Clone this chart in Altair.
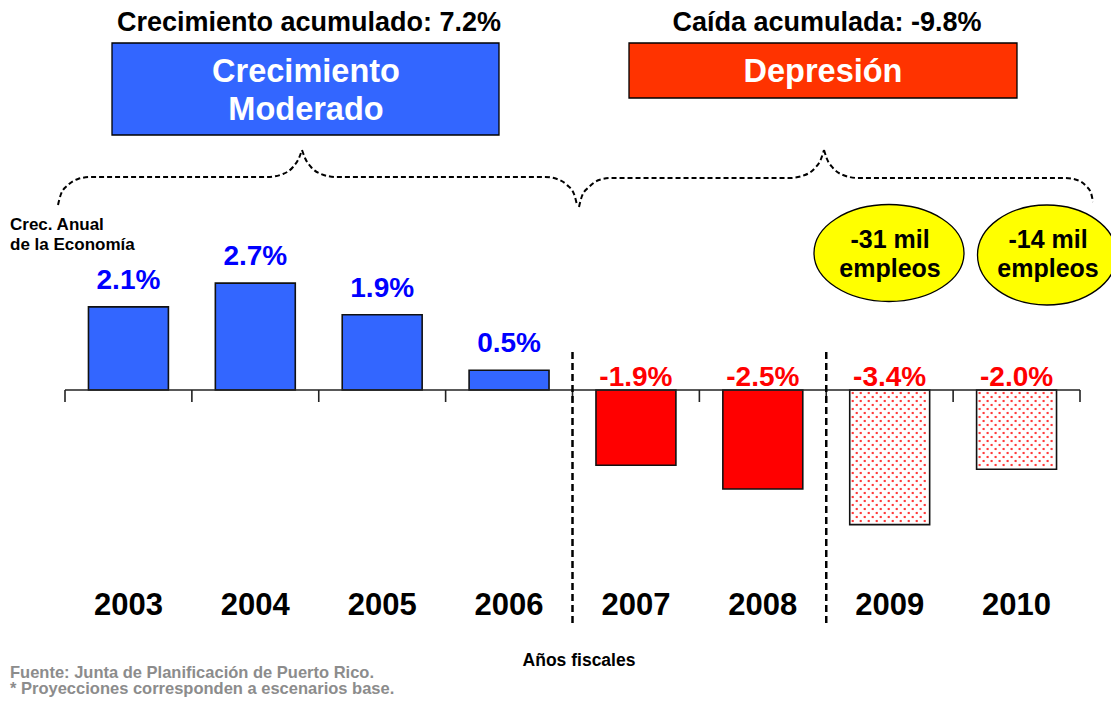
import altair as alt
import pandas as pd

# ---------------- data ----------------
years = ["2003", "2004", "2005", "2006", "2007", "2008", "2009", "2010"]
growth = [2.1, 2.7, 1.9, 0.5, -1.9, -2.5, -3.4, -2.0]
value_labels = ["2.1%", "2.7%", "1.9%", "0.5%", "-1.9%", "-2.5%", "-3.4%", "-2.0%"]
projected = [False, False, False, False, False, False, True, True]

title_left = "Crecimiento acumulado: 7.2%"
title_right = "Caída acumulada: -9.8%"
box_left_lines = ["Crecimiento", "Moderado"]
box_right_lines = ["Depresión"]
jobs_lines = [["-31 mil", "empleos"], ["-14 mil", "empleos"]]
ylabel_lines = ["Crec. Anual", "de la Economía"]
xlabel = "Años fiscales"
notes = ["Fuente: Junta de Planificación de Puerto Rico.",
         "* Proyecciones corresponden a escenarios base."]

# ---------------- layout ----------------
W, H = 1103, 690
X_PX0, X_STEP = 57.0, 126.875   # chart px of first band edge, band width
Y_PX0, Y_STEP = 382.0, 39.6     # chart px of zero line, px per 1 %

def ux(px):  # page px -> x data units
    return (px - 8 - X_PX0) / X_STEP

def vy(py):  # page px -> y data units
    return (Y_PX0 - (py - 8)) / Y_STEP

xs = alt.Scale(domain=[ux(8), ux(8 + W)], nice=False, zero=False)
ys = alt.Scale(domain=[vy(8 + H), vy(8)], nice=False, zero=False)

def X(f):
    return alt.X(f, type="quantitative", scale=xs, axis=None)

def Y(f):
    return alt.Y(f, type="quantitative", scale=ys, axis=None)

FONT = "Liberation Sans"
BLUE_BAR = "#3366FF"
RED_BAR = "#FF0000"

fills = []
for g, p in zip(growth, projected):
    if p:
        fills.append("#FFFFFF")
    elif g >= 0:
        fills.append(BLUE_BAR)
    else:
        fills.append(RED_BAR)

df = pd.DataFrame({
    "year": years,
    "growth": growth,
    "label": value_labels,
    "x0": [i + 0.185 for i in range(len(years))],
    "x1": [i + 0.815 for i in range(len(years))],
    "xc": [i + 0.5 for i in range(len(years))],
    "zero": 0.0,
    "fill": fills,
    "lcol": ["#0000FF" if g >= 0 else "#FF0000" for g in growth],
})

# bars
bars = alt.Chart(df).mark_rect(strokeWidth=0).encode(
    x=X("x0"), x2="x1", y=Y("zero"), y2="growth",
    fill=alt.Fill("fill:N", scale=None))

# dotted texture for projected bars
dot_rows = []
dxp, dyp = 8.0, 4.0
for i, (g, p) in enumerate(zip(growth, projected)):
    if not p:
        continue
    left_px = X_PX0 + (i + 0.185) * X_STEP
    right_px = X_PX0 + (i + 0.815) * X_STEP
    depth_px = abs(g) * Y_STEP
    r = 0
    ypx = 3.0
    while ypx < depth_px - 1.5:
        xpx = left_px + 3.0 + (dxp / 2 if r % 2 else 0)
        while xpx < right_px - 1.5:
            dot_rows.append({"u": (xpx - X_PX0) / X_STEP, "v": -ypx / Y_STEP})
            xpx += dxp
        ypx += dyp
        r += 1
dots = alt.Chart(pd.DataFrame(dot_rows)).mark_square(
    size=4.5, color="#FF3030", opacity=0.95, filled=True).encode(x=X("u"), y=Y("v"))

outlines = alt.Chart(df).mark_rect(
    fillOpacity=0, stroke="#111111", strokeWidth=1.6).encode(
    x=X("x0"), x2="x1", y=Y("zero"), y2="growth")

# value labels
pos_labels = alt.Chart(df[df.growth >= 0]).mark_text(
    font=FONT, fontWeight="bold", fontSize=28, baseline="alphabetic", dy=-18).encode(
    x=X("xc"), y=Y("growth"), text="label:N", color=alt.Color("lcol:N", scale=None))
neg_labels = alt.Chart(df[df.growth < 0]).mark_text(
    font=FONT, fontWeight="bold", fontSize=28, baseline="alphabetic", dy=-4).encode(
    x=X("xc"), y=Y("zero"), text="label:N", color=alt.Color("lcol:N", scale=None))

# year labels
year_labels = alt.Chart(df).transform_calculate(yy=str(vy(615))).mark_text(
    font=FONT, fontWeight="bold", fontSize=31, baseline="alphabetic", color="black").encode(
    x=X("xc"), y=Y("yy:Q"), text="year:N")

# zero axis line + ticks
axis_line = alt.Chart(pd.DataFrame({"a": [0.0], "b": [float(len(years))], "v": [0.0]})).mark_rule(
    color="#222222", strokeWidth=1.6).encode(x=X("a"), x2="b", y=Y("v"))
ticks = alt.Chart(pd.DataFrame({"u": [float(i) for i in range(len(years) + 1)],
                                "v0": 0.0, "v1": vy(402)})).mark_rule(
    color="#222222", strokeWidth=1.6).encode(x=X("u"), y=Y("v0"), y2="v1")

# dashed separators
seps = alt.Chart(pd.DataFrame({"u": [4.0, 6.0], "v0": vy(352), "v1": vy(624)})).mark_rule(
    color="black", strokeWidth=2.5, strokeDash=[7, 4]).encode(x=X("u"), y=Y("v0"), y2="v1")

# braces
brace_pts = {
    "LA": [(58, 205), (61, 194), (68, 185), (78, 179), (90, 177), (268, 177), (283, 174), (293, 167), (299, 158), (302, 150)],
    "LB": [(302, 150), (305, 158), (311, 167), (321, 174), (336, 177), (545, 177), (557, 179), (567, 185), (574, 194), (577, 205)],
    "RA": [(579, 207), (582, 196), (589, 187), (599, 180), (611, 178), (790, 178), (805, 175), (815, 168), (821, 159), (824, 150)],
    "RB": [(824, 150), (827, 159), (833, 168), (843, 175), (858, 178), (1065, 178), (1077, 180), (1086, 186), (1091, 193), (1093, 202)],
}
brace_rows = []
for k, pts in brace_pts.items():
    for j, (px, py) in enumerate(pts):
        brace_rows.append({"seg": k, "o": j, "u": ux(px), "v": vy(py)})
braces = alt.Chart(pd.DataFrame(brace_rows)).mark_line(
    color="black", strokeWidth=2, strokeDash=[5, 3], interpolate="monotone").encode(
    x=X("u"), y=Y("v"), detail="seg:N", order="o:Q")

# header boxes
boxes = alt.Chart(pd.DataFrame({
    "x0": [ux(112), ux(629)], "x1": [ux(499), ux(1017)],
    "y0": [vy(43), vy(43)], "y1": [vy(135), vy(98)],
    "f": ["#3366FF", "#FF3300"]})).mark_rect(stroke="black", strokeWidth=1.3).encode(
    x=X("x0"), x2="x1", y=Y("y0"), y2="y1", fill=alt.Fill("f:N", scale=None))

# ellipses
def ellipse_path(ratio):
    k = 0.5523
    R = ratio
    return (f"M -1 0 C -1 {-k*R:.4f} {-k:.4f} {-R:.4f} 0 {-R:.4f} "
            f"C {k:.4f} {-R:.4f} 1 {-k*R:.4f} 1 0 "
            f"C 1 {k*R:.4f} {k:.4f} {R:.4f} 0 {R:.4f} "
            f"C {-k:.4f} {R:.4f} -1 {k*R:.4f} -1 0 Z")

ell_specs = [(889, 253, 150, 97), (1047, 255, 139, 100)]
ellipses = []
for cx, cy, w, h in ell_specs:
    ellipses.append(
        alt.Chart(pd.DataFrame({"u": [ux(cx)], "v": [vy(cy)]})).mark_point(
            shape=ellipse_path(h / w), size=w * w, filled=True, fill="#FFFF00",
            stroke="black", strokeWidth=1.3, opacity=1).encode(x=X("u"), y=Y("v")))

# free texts
def texts(rows, size, color="black", align="center", weight="bold"):
    d = pd.DataFrame([{"u": ux(px), "v": vy(py), "t": t} for (px, py, t) in rows])
    return alt.Chart(d).mark_text(
        font=FONT, fontWeight=weight, fontSize=size, color=color, align=align,
        baseline="alphabetic").encode(x=X("u"), y=Y("v"), text="t:N")

t_titles = texts([(309, 31, title_left), (827, 31, title_right)], 27)
t_box_l = texts([(306, 82, box_left_lines[0]), (306, 120, box_left_lines[1])], 32.5, color="white")
t_box_r = texts([(823, 82, box_right_lines[0])], 32.5, color="white")
t_jobs = texts([(890, 248, jobs_lines[0][0]), (890, 277, jobs_lines[0][1]),
                (1048, 248, jobs_lines[1][0]), (1048, 277, jobs_lines[1][1])], 25)
t_ylabel = texts([(10, 230, ylabel_lines[0]), (10, 250, ylabel_lines[1])], 17, align="left")
t_xlabel = texts([(579, 666, xlabel)], 17.5)
t_notes = texts([(10, 678, notes[0]), (10, 694, notes[1])], 16.5, color="#8C8C8C", align="left")

chart = alt.layer(
    braces, boxes, *ellipses,
    bars, dots, outlines, axis_line, ticks, seps,
    pos_labels, neg_labels, year_labels,
    t_titles, t_box_l, t_box_r, t_jobs, t_ylabel, t_xlabel, t_notes,
).properties(
    width=W, height=H, padding=0, autosize=alt.AutoSizeParams(type="none"),
    background="white",
).configure_view(stroke=None)

chart.save("out.html", embed_options={"renderer": "svg", "actions": False})
